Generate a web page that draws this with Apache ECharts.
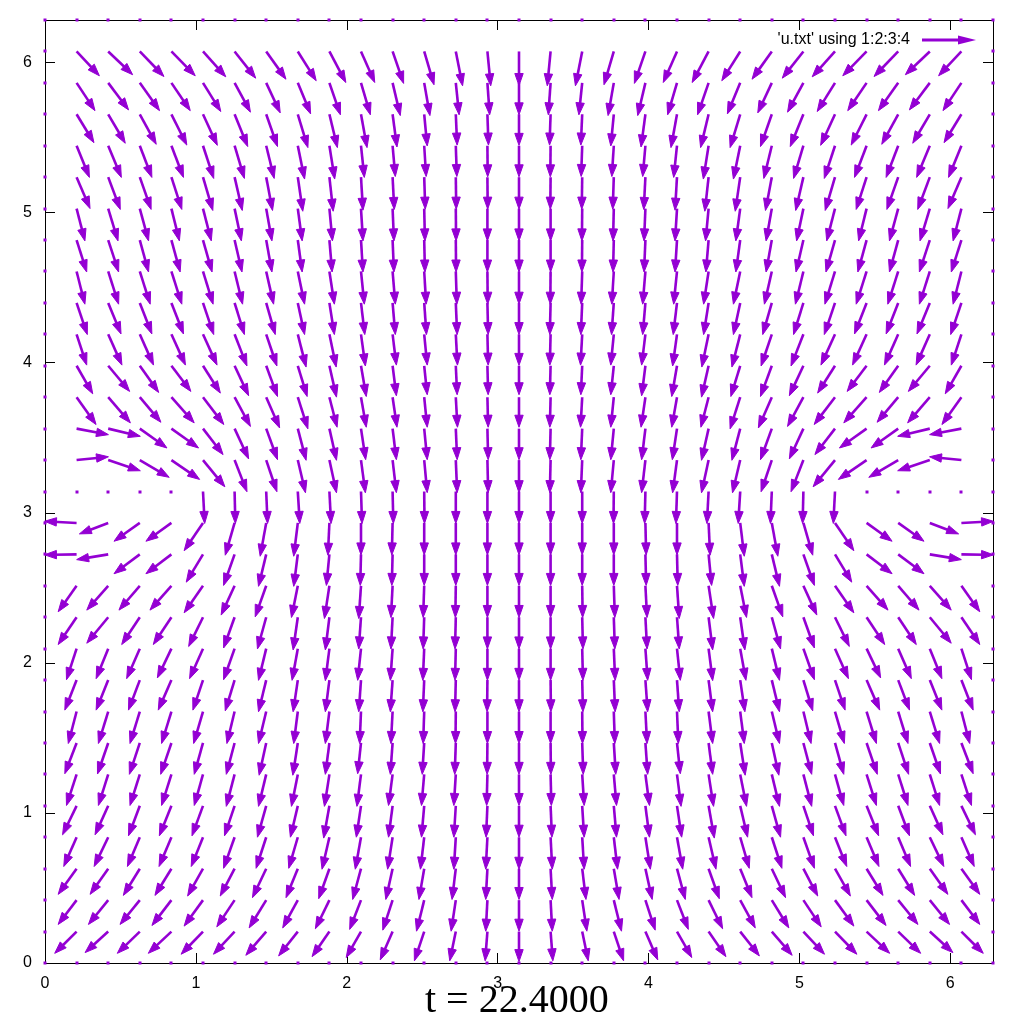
<!DOCTYPE html>
<html>
<head>
<meta charset="utf-8">
<script src="https://cdn.jsdelivr.net/npm/echarts@6/dist/echarts.min.js"></script>
<style>
html,body{margin:0;padding:0;background:#fff;}
#chart{width:1024px;height:1024px;}
</style>
</head>
<body>
<div id="chart"></div>
<script>
// grid coordinates (x and y), 31 nodes on [0, 2*pi]
const GRID = [0,0.2094,0.4189,0.6283,0.8378,1.0472,1.2566,1.4661,1.6755,1.885,2.0944,2.3038,2.5133,2.7227,2.9322,3.1416,3.351,3.5605,3.7699,3.9794,4.1888,4.3982,4.6077,4.8171,5.0265,5.236,5.4454,5.6549,5.8643,6.0737,6.2832];
const TICKS = [0,1,2,3,4,5,6];
const TITLE = 't = 22.4000';
const LEGEND = "'u.txt' using 1:2:3:4";

// horizontal vector component, one row per y node (row 0 = y=0 ... row 30 = y=2pi)
const U = [
[0,0,0,0,0,0,0,0,0,0,0,0,0,0,0,0,0,0,0,0,0,0,0,0,0,0,0,0,0,0,0],
[0,-.145,-.153,-.149,-.153,-.145,-.14,-.135,-.127,-.115,-.098,-.082,-.065,-.04,-.015,0,.015,.04,.065,.082,.098,.115,.127,.135,.14,.145,.153,.149,.153,.145,0],
[0,-.122,-.131,-.131,-.129,-.125,-.118,-.113,-.1,-.093,-.075,-.065,-.051,-.031,-.011,0,.011,.031,.051,.065,.075,.093,.1,.113,.118,.125,.129,.131,.131,.122,0],
[0,-.122,-.12,-.109,-.109,-.102,-.095,-.091,-.078,-.071,-.055,-.045,-.035,-.025,-.011,0,.011,.025,.035,.045,.055,.071,.078,.091,.095,.102,.109,.109,.12,.122,0],
[0,-.085,-.093,-.082,-.082,-.078,-.073,-.067,-.06,-.049,-.038,-.033,-.025,-.013,-.011,0,.011,.013,.025,.033,.038,.049,.06,.067,.073,.078,.082,.082,.093,.085,0],
[0,-.093,-.087,-.075,-.08,-.073,-.067,-.058,-.049,-.038,-.031,-.027,-.018,-.013,-.009,0,.009,.013,.018,.027,.031,.038,.049,.058,.067,.073,.08,.075,.087,.093,0],
[0,-.067,-.065,-.065,-.065,-.058,-.055,-.051,-.042,-.033,-.027,-.027,-.018,-.013,-.005,0,.005,.013,.018,.027,.027,.033,.042,.051,.055,.058,.065,.065,.065,.067,0],
[0,-.078,-.071,-.069,-.071,-.058,-.055,-.047,-.033,-.027,-.022,-.015,-.013,-.007,-.002,0,.002,.007,.013,.015,.022,.027,.033,.047,.055,.058,.071,.069,.071,.078,0],
[0,-.055,-.065,-.065,-.065,-.062,-.051,-.051,-.027,-.027,-.009,-.011,-.007,-.002,0,0,0,.002,.007,.011,.009,.027,.027,.051,.051,.062,.065,.065,.065,.055,0],
[0,-.078,-.08,-.075,-.087,-.067,-.062,-.051,-.031,-.027,-.015,-.015,-.009,-.005,-.002,0,.002,.005,.009,.015,.015,.027,.031,.051,.062,.067,.087,.075,.08,.078,0],
[0,-.067,-.08,-.087,-.093,-.089,-.073,-.051,-.038,-.027,-.022,-.015,-.009,-.005,0,0,0,.005,.009,.015,.022,.027,.038,.051,.073,.089,.093,.087,.08,.067,0],
[0,-.122,-.142,-.12,-.12,-.095,-.073,-.058,-.031,-.027,-.015,-.011,-.007,-.005,0,0,0,.005,.007,.011,.015,.027,.031,.058,.073,.095,.12,.12,.142,.122,0],
[0,-.122,-.142,-.138,-.142,-.125,-.089,-.073,-.042,-.033,-.015,-.011,-.007,-.003,0,0,0,.003,.007,.011,.015,.033,.042,.073,.089,.125,.142,.138,.142,.122,0],
[0,-.213,-.209,-.171,-.169,-.111,-.073,-.051,-.027,-.02,-.005,-.005,0,0,0,0,0,0,0,.005,.005,.02,.027,.051,.073,.111,.169,.171,.209,.213,0],
[0,-.213,-.191,-.171,-.169,-.125,-.062,-.04,-.027,-.01,0,-.005,0,0,0,0,0,0,0,.005,0,.01,.027,.04,.062,.125,.169,.171,.191,.213,0],
[0,0,0,0,0,.011,.005,.009,.013,.011,.007,.005,.002,0,0,0,0,0,-.002,-.005,-.007,-.011,-.013,-.009,-.005,-.011,0,0,0,0,0],
[0,.211,.213,.195,.187,.145,.082,.071,.051,.047,.029,.025,.02,.009,.005,0,-.005,-.009,-.02,-.025,-.029,-.047,-.051,-.071,-.082,-.145,-.187,-.195,-.213,-.211,0],
[0,.211,.213,.18,.18,.133,.093,.075,.055,.047,.031,.025,.02,.009,.005,0,-.005,-.009,-.02,-.025,-.031,-.047,-.055,-.075,-.093,-.133,-.18,-.18,-.213,-.211,0],
[0,.129,.147,.14,.151,.138,.105,.089,.067,.051,.035,.029,.02,.011,.005,0,-.005,-.011,-.02,-.029,-.035,-.051,-.067,-.089,-.105,-.138,-.151,-.14,-.147,-.129,0],
[0,.107,.142,.125,.129,.115,.093,.075,.062,.047,.035,.025,.02,.009,.005,0,-.005,-.009,-.02,-.025,-.035,-.047,-.062,-.075,-.093,-.115,-.129,-.125,-.142,-.107,0],
[0,.067,.091,.091,.093,.093,.082,.071,.055,.045,.029,.025,.02,.011,.005,0,-.005,-.011,-.02,-.025,-.029,-.045,-.055,-.071,-.082,-.093,-.093,-.091,-.091,-.067,0],
[0,.071,.085,.08,.08,.071,.065,.06,.045,.033,.025,.018,.015,.009,.005,0,-.005,-.009,-.015,-.018,-.025,-.033,-.045,-.06,-.065,-.071,-.08,-.08,-.085,-.071,0],
[0,.055,.069,.069,.069,.067,.053,.049,.045,.033,.022,.018,.013,.007,.002,0,-.002,-.007,-.013,-.018,-.022,-.033,-.045,-.049,-.053,-.067,-.069,-.069,-.069,-.055,0],
[0,.067,.069,.058,.058,.06,.049,.038,.029,.018,.013,.009,.005,.002,0,0,0,-.002,-.005,-.009,-.013,-.018,-.029,-.038,-.049,-.06,-.058,-.058,-.069,-.067,0],
[0,.055,.065,.058,.053,.055,.045,.038,.029,.02,.013,.009,.005,.002,0,0,0,-.002,-.005,-.009,-.013,-.02,-.029,-.038,-.045,-.055,-.053,-.058,-.065,-.055,0],
[0,.089,.08,.075,.069,.065,.051,.042,.033,.025,.013,.011,.007,.003,.002,0,-.002,-.003,-.007,-.011,-.013,-.025,-.033,-.042,-.051,-.065,-.069,-.075,-.08,-.089,0],
[0,.085,.087,.08,.08,.071,.065,.053,.045,.035,.022,.018,.013,.007,.002,0,-.002,-.007,-.013,-.018,-.022,-.035,-.045,-.053,-.065,-.071,-.08,-.08,-.087,-.085,0],
[0,.115,.113,.109,.102,.095,.087,.075,.067,.053,.04,.029,.02,.009,.007,0,-.007,-.009,-.02,-.029,-.04,-.053,-.067,-.075,-.087,-.095,-.102,-.109,-.113,-.115,0],
[0,.122,.135,.131,.125,.118,.105,.093,.085,.073,.062,.051,.038,.022,.015,0,-.015,-.022,-.038,-.051,-.062,-.073,-.085,-.093,-.105,-.118,-.125,-.131,-.135,-.122,0],
[0,.151,.162,.16,.158,.151,.14,.131,.122,.109,.091,.073,.065,.045,.022,0,-.022,-.045,-.065,-.073,-.091,-.109,-.122,-.131,-.14,-.151,-.158,-.16,-.162,-.151,0],
[0,0,0,0,0,0,0,0,0,0,0,0,0,0,0,0,0,0,0,0,0,0,0,0,0,0,0,0,0,0,0]
];

// vertical vector component, same layout
const V = [
[0,0,0,0,0,0,0,0,0,0,0,0,0,0,0,0,0,0,0,0,0,0,0,0,0,0,0,0,0,0,0],
[0,-.145,-.14,-.145,-.145,-.151,-.151,-.158,-.162,-.167,-.173,-.189,-.195,-.195,-.195,-.2,-.195,-.195,-.195,-.189,-.173,-.167,-.162,-.158,-.151,-.151,-.145,-.145,-.14,-.145,0],
[0,-.162,-.162,-.162,-.169,-.173,-.178,-.185,-.185,-.191,-.195,-.2,-.207,-.207,-.207,-.207,-.207,-.207,-.207,-.2,-.195,-.191,-.185,-.185,-.178,-.173,-.169,-.162,-.162,-.162,0],
[0,-.171,-.171,-.178,-.178,-.182,-.182,-.193,-.193,-.2,-.205,-.205,-.205,-.205,-.205,-.205,-.205,-.205,-.205,-.205,-.205,-.2,-.193,-.193,-.182,-.182,-.178,-.178,-.171,-.171,0],
[0,-.195,-.195,-.195,-.195,-.195,-.207,-.207,-.207,-.213,-.213,-.213,-.213,-.213,-.213,-.213,-.213,-.213,-.213,-.213,-.213,-.213,-.207,-.207,-.207,-.195,-.195,-.195,-.195,-.195,0],
[0,-.193,-.193,-.2,-.2,-.2,-.2,-.209,-.209,-.215,-.209,-.209,-.209,-.209,-.209,-.209,-.209,-.209,-.209,-.209,-.209,-.215,-.209,-.209,-.2,-.2,-.2,-.2,-.193,-.193,0],
[0,-.207,-.207,-.207,-.207,-.207,-.213,-.213,-.213,-.213,-.213,-.207,-.207,-.207,-.207,-.207,-.207,-.207,-.207,-.207,-.213,-.213,-.213,-.213,-.213,-.207,-.207,-.207,-.207,-.207,0],
[0,-.205,-.207,-.209,-.209,-.209,-.209,-.215,-.215,-.209,-.205,-.209,-.209,-.209,-.209,-.209,-.209,-.209,-.209,-.209,-.205,-.209,-.215,-.215,-.209,-.209,-.209,-.209,-.207,-.205,0],
[0,-.213,-.213,-.213,-.213,-.213,-.213,-.213,-.213,-.213,-.213,-.213,-.213,-.213,-.213,-.213,-.213,-.213,-.213,-.213,-.213,-.213,-.213,-.213,-.213,-.213,-.213,-.213,-.213,-.213,0],
[0,-.2,-.2,-.2,-.2,-.2,-.205,-.211,-.211,-.211,-.211,-.211,-.211,-.211,-.211,-.211,-.211,-.211,-.211,-.211,-.211,-.211,-.211,-.211,-.205,-.2,-.2,-.2,-.2,-.2,0],
[0,-.207,-.2,-.2,-.195,-.2,-.207,-.211,-.211,-.213,-.211,-.211,-.211,-.211,-.211,-.211,-.211,-.211,-.211,-.211,-.211,-.213,-.211,-.211,-.207,-.2,-.195,-.2,-.2,-.207,0],
[0,-.182,-.173,-.182,-.182,-.195,-.205,-.211,-.218,-.218,-.211,-.211,-.211,-.211,-.211,-.211,-.211,-.211,-.211,-.211,-.211,-.218,-.218,-.211,-.205,-.195,-.182,-.182,-.173,-.182,0],
[0,-.173,-.162,-.162,-.162,-.18,-.195,-.207,-.211,-.218,-.218,-.211,-.211,-.211,-.211,-.211,-.211,-.211,-.211,-.211,-.218,-.218,-.211,-.207,-.195,-.18,-.162,-.162,-.162,-.173,0],
[0,-.003,-.035,-.129,-.129,-.185,-.207,-.213,-.213,-.207,-.207,-.207,-.207,-.207,-.207,-.207,-.207,-.207,-.207,-.207,-.207,-.207,-.213,-.213,-.207,-.185,-.129,-.129,-.035,-.003,0],
[0,.011,-.073,-.122,-.122,-.185,-.215,-.222,-.222,-.215,-.213,-.213,-.213,-.213,-.213,-.213,-.213,-.213,-.213,-.213,-.213,-.215,-.222,-.222,-.215,-.185,-.122,-.122,-.073,.011,0],
[0,0,0,0,0,-.213,-.213,-.213,-.213,-.213,-.213,-.213,-.213,-.213,-.213,-.213,-.213,-.213,-.213,-.213,-.213,-.213,-.213,-.213,-.213,-.213,0,0,0,0,0],
[0,.022,-.071,-.115,-.129,-.178,-.211,-.211,-.218,-.218,-.218,-.217,-.217,-.217,-.217,-.217,-.217,-.217,-.217,-.217,-.218,-.218,-.218,-.211,-.211,-.178,-.129,-.115,-.071,.022,0],
[0,-.04,-.051,-.129,-.129,-.173,-.202,-.207,-.211,-.211,-.207,-.207,-.207,-.207,-.207,-.207,-.207,-.207,-.207,-.207,-.207,-.211,-.211,-.207,-.202,-.173,-.129,-.129,-.051,-.04,0],
[0,-.182,-.171,-.167,-.171,-.182,-.195,-.205,-.211,-.2,-.2,-.2,-.2,-.2,-.2,-.2,-.2,-.2,-.2,-.2,-.2,-.2,-.211,-.205,-.195,-.182,-.171,-.167,-.171,-.182,0],
[0,-.187,-.171,-.178,-.171,-.182,-.2,-.205,-.205,-.209,-.205,-.2,-.193,-.193,-.193,-.193,-.193,-.193,-.193,-.2,-.205,-.209,-.205,-.205,-.2,-.182,-.171,-.178,-.171,-.187,0],
[0,-.205,-.205,-.205,-.205,-.205,-.211,-.211,-.218,-.218,-.211,-.205,-.205,-.205,-.205,-.207,-.205,-.205,-.205,-.205,-.211,-.218,-.218,-.211,-.211,-.205,-.205,-.205,-.205,-.205,0],
[0,-.211,-.207,-.207,-.207,-.211,-.211,-.211,-.211,-.211,-.211,-.211,-.211,-.211,-.211,-.211,-.211,-.211,-.211,-.211,-.211,-.211,-.211,-.211,-.211,-.211,-.207,-.207,-.207,-.211,0],
[0,-.218,-.218,-.218,-.218,-.218,-.218,-.218,-.218,-.218,-.218,-.218,-.218,-.218,-.218,-.218,-.218,-.218,-.218,-.218,-.218,-.218,-.218,-.218,-.218,-.218,-.218,-.218,-.218,-.218,0],
[0,-.213,-.213,-.213,-.213,-.213,-.213,-.213,-.213,-.213,-.213,-.213,-.213,-.213,-.213,-.213,-.213,-.213,-.213,-.213,-.213,-.213,-.213,-.213,-.213,-.213,-.213,-.213,-.213,-.213,0],
[0,-.215,-.215,-.215,-.215,-.215,-.215,-.215,-.215,-.215,-.215,-.215,-.215,-.215,-.215,-.215,-.215,-.215,-.215,-.215,-.215,-.215,-.215,-.215,-.215,-.215,-.215,-.215,-.215,-.215,0],
[0,-.209,-.215,-.215,-.215,-.222,-.222,-.222,-.227,-.227,-.22,-.215,-.213,-.213,-.213,-.213,-.213,-.213,-.213,-.215,-.22,-.227,-.227,-.222,-.222,-.222,-.215,-.215,-.215,-.209,0],
[0,-.211,-.211,-.211,-.211,-.218,-.218,-.218,-.222,-.222,-.211,-.205,-.205,-.205,-.207,-.207,-.207,-.205,-.205,-.205,-.211,-.222,-.222,-.218,-.218,-.218,-.211,-.211,-.211,-.211,0],
[0,-.189,-.193,-.2,-.205,-.207,-.215,-.215,-.222,-.222,-.222,-.218,-.211,-.205,-.205,-.207,-.205,-.205,-.211,-.218,-.222,-.222,-.222,-.215,-.215,-.207,-.205,-.2,-.193,-.189,0],
[0,-.185,-.18,-.185,-.185,-.191,-.195,-.2,-.207,-.213,-.213,-.218,-.218,-.213,-.213,-.213,-.213,-.213,-.218,-.218,-.213,-.213,-.207,-.2,-.195,-.191,-.185,-.185,-.18,-.185,0],
[0,-.162,-.155,-.167,-.162,-.169,-.178,-.185,-.195,-.207,-.207,-.213,-.222,-.229,-.229,-.227,-.229,-.229,-.222,-.213,-.207,-.207,-.195,-.185,-.178,-.169,-.162,-.167,-.155,-.162,0],
[0,0,0,0,0,0,0,0,0,0,0,0,0,0,0,0,0,0,0,0,0,0,0,0,0,0,0,0,0,0,0]
];

// sanity check of the table shape
if (U.length !== GRID.length || V.length !== GRID.length) throw new Error('row count ' + U.length + ' ' + V.length);
U.forEach((r, j) => { if (r.length !== GRID.length) throw new Error('U row ' + j + ' has ' + r.length); });
V.forEach((r, j) => { if (r.length !== GRID.length) throw new Error('V row ' + j + ' has ' + r.length); });

const COLOR = '#9400d3';
const HEAD_LEN = 12;
const HEAD_HALF = 4.2;

const points = [];
for (let j = 0; j < GRID.length; j++) {
  for (let i = 0; i < GRID.length; i++) {
    points.push([GRID[i], GRID[j], U[j][i], V[j][i]]);
  }
}

function renderArrow(params, api) {
  const x = api.value(0), y = api.value(1), u = api.value(2), v = api.value(3);
  const p0 = api.coord([x, y]);
  const p1 = api.coord([x + u, y + v]);
  const dx = p1[0] - p0[0], dy = p1[1] - p0[1];
  const len = Math.hypot(dx, dy);
  if (len < 1) {
    return { type: 'rect', shape: { x: Math.round(p0[0]) - 1.5, y: Math.round(p0[1]) - 1.5, width: 3, height: 3 }, style: { fill: COLOR } };
  }
  const ux = dx / len, uy = dy / len;
  const hl = Math.min(HEAD_LEN, len * 0.6);
  const bx = p1[0] - ux * hl, by = p1[1] - uy * hl;
  return {
    type: 'group',
    children: [
      { type: 'line', shape: { x1: p0[0], y1: p0[1], x2: bx + ux * 3, y2: by + uy * 3 }, style: { stroke: COLOR, lineWidth: 2.6 } },
      { type: 'polygon', shape: { points: [[p1[0], p1[1]], [bx - uy * HEAD_HALF, by + ux * HEAD_HALF], [bx + uy * HEAD_HALF, by - ux * HEAD_HALF]] }, style: { fill: COLOR, stroke: COLOR, lineWidth: 1 } }
    ]
  };
}

const isTick = v => TICKS.some(t => Math.abs(t - v) < 1e-6);
const axisBase = {
  type: 'value', min: 0, max: GRID[GRID.length - 1], interval: 1,
  axisLine: { show: true, onZero: false, lineStyle: { color: '#000', width: 1 } },
  axisTick: { show: true, inside: true, length: 10, lineStyle: { color: '#000', width: 1 } },
  splitLine: { show: false },
  axisLabel: { show: true, color: '#000', fontSize: 16, fontFamily: 'Liberation Sans', formatter: v => isTick(v) ? String(Math.round(v)) : '' }
};

const chart = echarts.init(document.getElementById('chart'), null, { renderer: 'canvas' });
chart.setOption({
  animation: false,
  backgroundColor: '#fff',
  grid: { left: 45, right: 31, top: 20, bottom: 61, containLabel: false },
  xAxis: [
    Object.assign({}, axisBase, { position: 'bottom', axisLabel: Object.assign({}, axisBase.axisLabel, { margin: 13 }) }),
    Object.assign({}, axisBase, { position: 'top', axisLabel: { show: false } })
  ],
  yAxis: [
    Object.assign({}, axisBase, { position: 'left', axisLabel: Object.assign({}, axisBase.axisLabel, { margin: 13 }) }),
    Object.assign({}, axisBase, { position: 'right', axisLabel: { show: false } })
  ],
  title: {
    text: TITLE, left: 420, top: 976,
    textStyle: { fontFamily: 'Liberation Serif', fontSize: 40, fontWeight: 'normal', color: '#000' }
  },
  graphic: [
    { type: 'text', z: 10, style: { text: LEGEND, x: 910, y: 40, align: 'right', verticalAlign: 'middle', font: '16px "Liberation Sans"', fill: '#000' } },
    { type: 'line', z: 10, shape: { x1: 922, y1: 40, x2: 962, y2: 40 }, style: { stroke: COLOR, lineWidth: 3 } },
    { type: 'polygon', z: 10, shape: { points: [[976, 40], [958, 35.5], [958, 44.5]] }, style: { fill: COLOR } }
  ],
  series: [{
    type: 'custom',
    xAxisIndex: 0, yAxisIndex: 0,
    renderItem: renderArrow,
    encode: { x: 0, y: 1 },
    data: points,
    clip: false,
    z: 5
  }]
});
</script>
</body>
</html>
